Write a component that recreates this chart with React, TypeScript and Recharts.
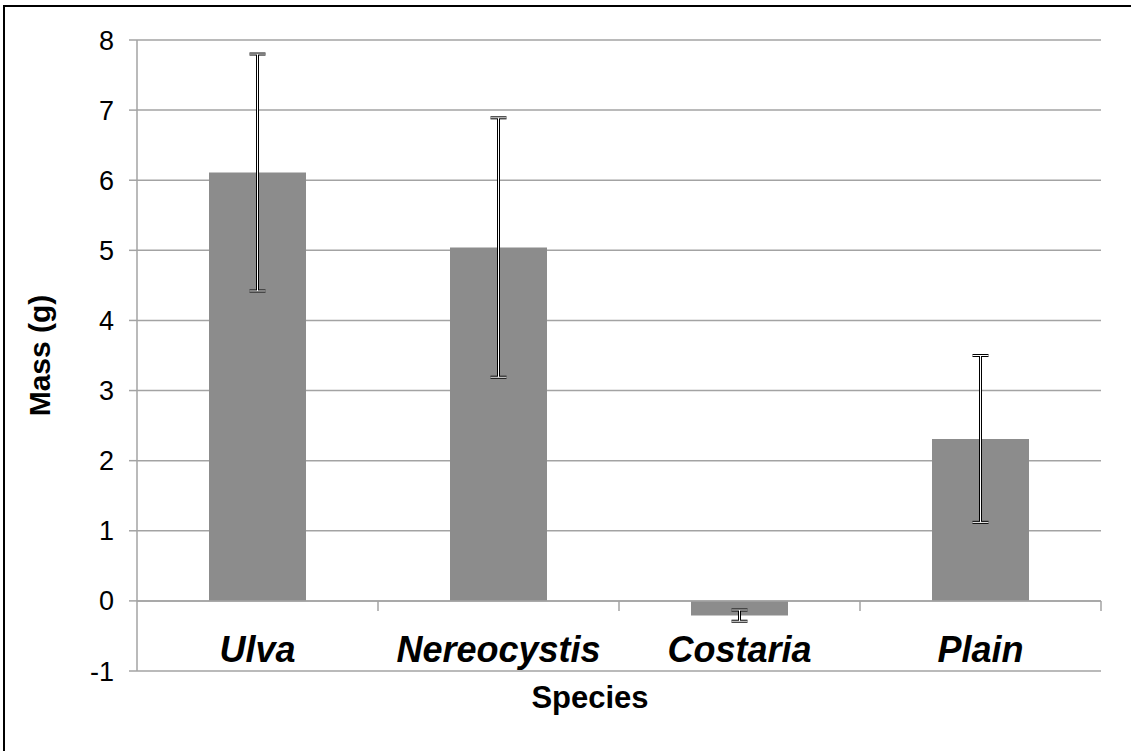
import React from 'react';
import { BarChart, Bar, XAxis, YAxis, CartesianGrid, ErrorBar, ReferenceLine } from 'recharts';

const categories = ['Ulva', 'Nereocystis', 'Costaria', 'Plain'];
const means = [6.11, 5.04, -0.21, 2.31];
const errors = [1.69, 1.85, 0.08, 1.19];
const yTicks = [-1, 0, 1, 2, 3, 4, 5, 6, 7, 8];

const data = categories.map((name, i) => ({ name, mass: means[i], err: errors[i] }));

const FONT = '"Liberation Sans", Arial, sans-serif';
const GRID = '#a3a3a3';

const CatTick = (props: any) => {
  const { x, y, payload } = props;
  return (
    <text x={x} y={y} dy={-9} textAnchor="middle" fontFamily={FONT} fontSize={36} fontWeight="bold" fontStyle="italic" fill="#000">
      {payload.value}
    </text>
  );
};

const ZeroAxis = (props: any) => {
  const { x1, x2, y1 } = props;
  const n = categories.length;
  const step = (x2 - x1) / n;
  return (
    <g>
      <line x1={x1} x2={x2} y1={y1} y2={y1} stroke={GRID} strokeWidth={1.5} />
      {categories.map((c, k) => (
        <line key={c} x1={x1 + step * (k + 1)} x2={x1 + step * (k + 1)} y1={y1} y2={y1 + 10} stroke={GRID} strokeWidth={1.5} />
      ))}
    </g>
  );
};

export default function App() {
  return (
    <div style={{ position: 'absolute', left: 0, top: 0, width: 1131, height: 751, overflow: 'hidden', background: '#fff' }}>
      <div style={{ position: 'absolute', left: 3, top: 5, width: 1200, height: 800, border: '2px solid #000' }} />
      <div style={{ position: 'absolute', left: 0, top: 0 }}>
        <BarChart width={1131} height={751} data={data} margin={{ top: 40, right: 30, bottom: 30, left: 0 }}>
          <CartesianGrid vertical={false} stroke={GRID} strokeWidth={1.5} />
          <XAxis
            dataKey="name"
            axisLine={false}
            tickLine={false}
            tickSize={0}
            tickMargin={0}
            height={50}
            interval={0}
            tick={<CatTick />}
            label={{
              content: (p: any) => {
                const vb = p.viewBox;
                return (
                  <text x={vb.x + vb.width / 2 - 29} y={vb.y + 37} textAnchor="middle" fontFamily={FONT} fontSize={31} fontWeight="bold" fill="#000">
                    Species
                  </text>
                );
              },
            }}
          />
          <YAxis
            width={137}
            domain={[-1, 8]}
            ticks={yTicks}
            interval={0}
            allowDataOverflow
            axisLine={{ stroke: GRID, strokeWidth: 1.5 }}
            tickLine={{ stroke: GRID, strokeWidth: 1.5 }}
            tickSize={8}
            tickMargin={15}
            tick={{ fill: '#000', fontSize: 27, fontFamily: FONT }}
            label={{
              content: (p: any) => {
                const vb = p.viewBox;
                const cx = 50;
                const cy = vb.y + vb.height / 2;
                return (
                  <text x={cx} y={cy} transform={`rotate(-90, ${cx}, ${cy})`} textAnchor="middle" fontFamily={FONT} fontSize={30} fontWeight="bold" fill="#000">
                    Mass (g)
                  </text>
                );
              },
            }}
          />
          <Bar dataKey="mass" fill="#8c8c8c" barSize={97} isAnimationActive={false}>
            <ErrorBar dataKey="err" width={8} stroke="#000" strokeWidth={3} isAnimationActive={false} />
            <ErrorBar dataKey="err" width={8} stroke="#fff" strokeWidth={1} isAnimationActive={false} />
          </Bar>
          <ReferenceLine y={0} shape={<ZeroAxis />} />
        </BarChart>
      </div>
    </div>
  );
}
